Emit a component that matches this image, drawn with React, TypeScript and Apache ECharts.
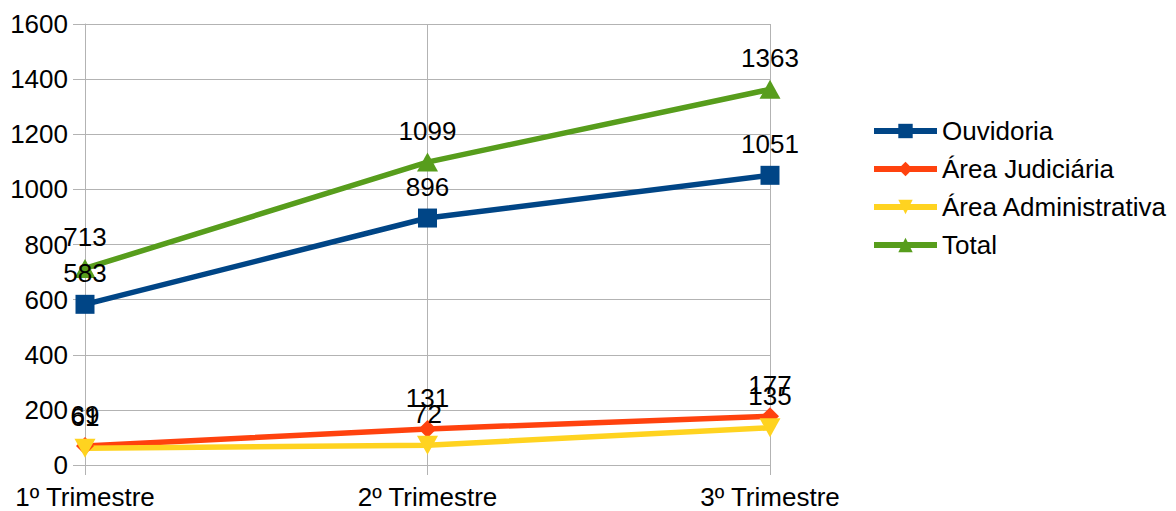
import React, { useEffect, useRef } from "react";
import * as echarts from "echarts";

const categories = ["1º Trimestre", "2º Trimestre", "3º Trimestre"];
const ouvidoria = [583, 896, 1051];
const judiciaria = [69, 131, 177];
const administrativa = [61, 72, 135];
const total = [713, 1099, 1363];
const seriesNames = ["Ouvidoria", "Área Judiciária", "Área Administrativa", "Total"];
const colors = ["#004586", "#ff420e", "#ffd320", "#579d1c"];

const FONT = "'Liberation Sans', Arial, sans-serif";
const FS = 26;

export default function App() {
  const ref = useRef<HTMLDivElement>(null);
  useEffect(() => {
    if (!ref.current) return;
    const chart = echarts.init(ref.current, undefined, { renderer: "svg" });
    const label = {
      show: true,
      position: "top" as const,
      distance: 9,
      color: "#000",
      fontSize: FS,
      fontFamily: FONT,
    };
    const mk = (i: number, data: number[], symbol: string, size: any, rotate = 0) => ({
      name: seriesNames[i],
      type: "line",
      data,
      symbol,
      symbolSize: size,
      symbolRotate: rotate,
      color: colors[i],
      lineStyle: { width: 5.5, color: colors[i] },
      itemStyle: { color: colors[i] },
      label,
    });
    chart.setOption({
      animation: false,
      textStyle: { fontFamily: FONT },
      grid: { left: 85, right: 406, top: 24, bottom: 46, containLabel: false },
      legend: {
        orient: "vertical",
        left: 871,
        top: 118,
        padding: 0,
        itemWidth: 63,
        itemHeight: 18,
        itemGap: 12,
        lineStyle: { width: 6 },
        textStyle: { fontSize: FS, color: "#000", fontFamily: FONT },
        data: seriesNames,
      },
      xAxis: {
        type: "category",
        data: categories,
        boundaryGap: false,
        axisLine: { show: true, lineStyle: { color: "#b3b3b3", width: 1 } },
        axisTick: { show: true, length: 10, lineStyle: { color: "#b3b3b3" }, alignWithLabel: true },
        splitLine: { show: true, lineStyle: { color: "#b3b3b3", width: 1 } },
        axisLabel: { color: "#000", fontSize: FS, margin: 19, fontFamily: FONT },
      },
      yAxis: {
        type: "value",
        min: 0,
        max: 1600,
        interval: 200,
        axisLine: { show: true, lineStyle: { color: "#b3b3b3", width: 1 } },
        axisTick: { show: true, length: 12, lineStyle: { color: "#b3b3b3" } },
        splitLine: { show: true, lineStyle: { color: "#b3b3b3", width: 1 } },
        axisLabel: {
          color: "#000",
          fontSize: FS,
          margin: 17,
          fontFamily: FONT,
          formatter: (v: number) => String(v),
        },
      },
      series: [
        mk(0, ouvidoria, "rect", 19),
        mk(1, judiciaria, "diamond", 18),
        mk(2, administrativa, "triangle", [21, 19], 180),
        mk(3, total, "triangle", [21, 19]),
      ],
    });
    return () => chart.dispose();
  }, []);
  return (
    <div
      ref={ref}
      style={{ position: "fixed", left: 0, top: 0, width: 1176, height: 511, background: "#fff" }}
    />
  );
}
